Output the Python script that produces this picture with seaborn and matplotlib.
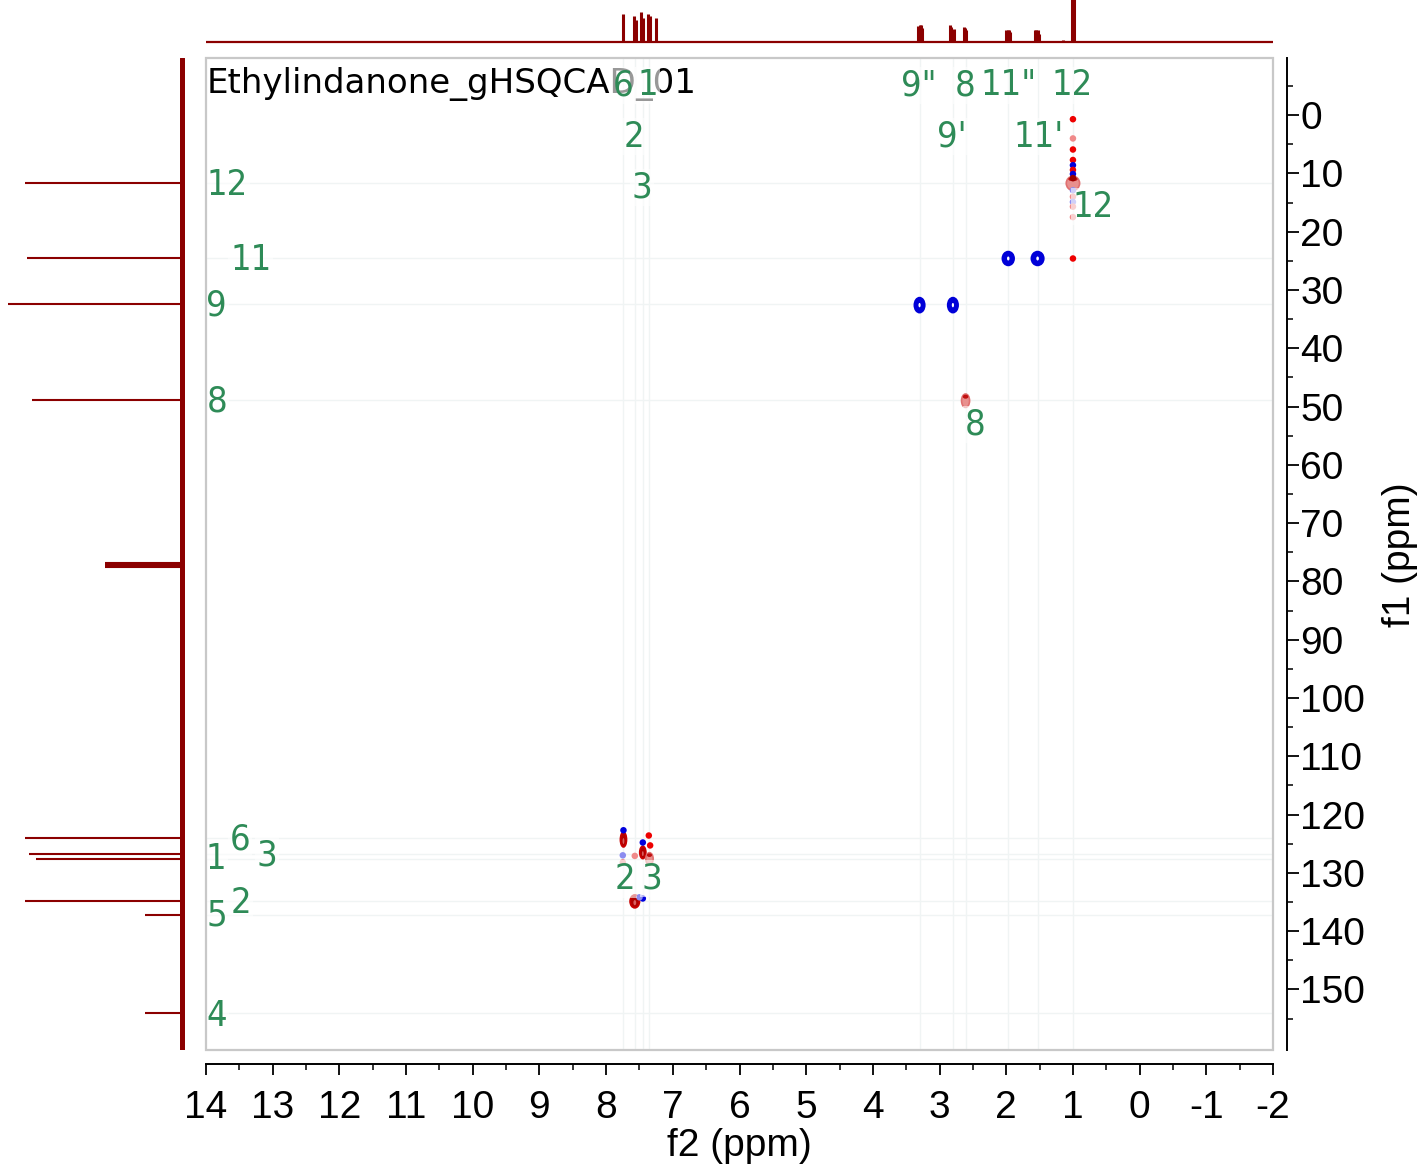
import numpy as np
import pandas as pd
import matplotlib
matplotlib.use('Agg')
import matplotlib.pyplot as plt
import seaborn as sns
from matplotlib.patches import Ellipse, Rectangle

sns.set_theme(style='white')
plt.rcParams['font.family'] = ['Liberation Sans', 'DejaVu Sans']
plt.rcParams['axes.unicode_minus'] = False

# 1H projection (top): shift in ppm, relative height
h1_shift = [7.74, 7.58, 7.55, 7.47, 7.45, 7.37, 7.34, 7.25,
            3.32, 3.30, 3.28, 3.26, 2.85, 2.83, 2.79, 2.64, 2.62, 2.61,
            2.00, 1.98, 1.96, 1.94, 1.57, 1.55, 1.53, 1.51, 1.15, 1.02, 1.00, 0.98, 0.90, 5.40, 4.07]
h1_height = [28, 26, 22, 30, 24, 28, 26, 24,
             16, 17, 17, 14, 17, 15, 13, 15, 14, 12,
             12, 12, 12, 10, 12, 12, 12, 8, 2.5, 60, 60, 60, 1.5, 1, 1]

# 13C projection (left)
c13_shift = [11.7, 24.5, 32.4, 48.8, 76.84, 77.16, 77.48, 124.1, 126.8, 127.6, 134.9, 137.2, 154.0]
c13_height = [90, 89, 100, 86, 44, 44, 44, 90, 88, 84, 90, 21, 21]

# HSQC cross peaks: f2, f1, extent in f2, extent in f1, phase/intensity
peak_f2 = [3.30, 2.80, 1.97, 1.53, 1.00, 2.61, 7.74, 7.45, 7.35, 7.57]
peak_f1 = [32.6, 32.6, 24.6, 24.6, 11.7, 49.0, 124.3, 126.5, 127.6, 134.9]
peak_w = [0.15, 0.15, 0.17, 0.18, 0.20, 0.12, 0.09, 0.09, 0.11, 0.14]
peak_h = [2.5, 2.5, 2.3, 2.3, 2.4, 2.3, 2.5, 2.1, 2.1, 2.2]
peak_int = [-1, -1, -1, -1, 0.5, 0.5, 1, 1, 0.5, 1]

# small artefact dots
dot_f2 = [1.0, 1.0, 1.0, 1.0, 1.0, 1.0, 1.0, 1.0, 1.0, 1.0, 1.0, 1.0, 1.0,
          1.0, 7.74, 7.45, 7.36, 7.34, 7.57, 7.75, 7.75, 7.45, 7.50]
dot_f1 = [0.7, 4.0, 5.9, 7.7, 8.6, 9.4, 10.1, 10.8, 12.9, 14.0, 14.9, 15.7, 17.5,
          24.6, 122.7, 124.8, 123.6, 125.3, 127.1, 127.0, 128.2, 134.4, 134.2]
dot_kind = ['pos', 'weak', 'pos', 'pos', 'neg', 'pos', 'neg', 'strong', 'negweak', 'weak', 'negweak', 'weak', 'weak',
            'pos', 'neg', 'neg', 'pos', 'pos', 'weak', 'negweak', 'weak', 'neg', 'negweak']

guide_f2 = [7.74, 7.57, 7.45, 7.35, 3.30, 2.80, 2.61, 1.97, 1.53, 1.00]
guide_f1 = [11.7, 24.5, 32.4, 48.8, 124.1, 126.8, 127.6, 134.9, 137.2, 154.0]

label_text = ['6', '1', '9"', '8', '11"', '12', '2', "9'", "11'", '3',
              '12', '8', '2', '3',
              '12', '11', '9', '8', '6', '3', '1', '2', '5', '4']
label_f2 = [7.74, 7.38, 3.31, 2.62, 1.97, 1.01, 7.58, 2.82, 1.52, 7.46,
            0.69, 2.46, 7.72, 7.31,
            13.68, 13.33, 13.84, 13.84, 13.49, 13.09, 13.85, 13.47, 13.84, 13.84]
label_f1 = [-5.1, -5.1, -5.1, -5.1, -5.1, -5.1, 3.7, 3.7, 3.7, 12.4,
            15.7, 53.1, 131.1, 131.0,
            12.0, 24.9, 32.7, 49.1, 124.3, 127.1, 127.7, 135.1, 137.4, 154.6]

x_ticks = list(range(14, -3, -1))
y_ticks = list(range(0, 151, 10))

W, H = 1422, 1167


def rect(x0, y0, x1, y1):
    return [x0 / W, 1 - y1 / H, (x1 - x0) / W, (y1 - y0) / H]


fig = plt.figure(figsize=(W / 100, H / 100), dpi=100)
ax = fig.add_axes(rect(206, 58, 1273, 1050))
ax_top = fig.add_axes(rect(206, 0, 1273, 50))
ax_left = fig.add_axes(rect(0, 58, 190, 1050))

f2_lim = (14, -2)
f1_lim = (160.4, -9.8)
dark = '#8b0000'
green = '#2e8b57'

# top projection
ax_top.vlines(h1_shift, 0, h1_height, color=dark, lw=2.2)
ax_top.axhline(0, color=dark, lw=1.6)
ax_top.set_xlim(*f2_lim)
ax_top.set_ylim(-8, 42)
ax_top.axis('off')

# left projection
ax_left.hlines(c13_shift, 0, c13_height, color=dark, lw=1.5)
ax_left.axvline(0, color=dark, lw=3.6)
ax_left.set_xlim(104.6, -4.6)
ax_left.set_ylim(*f1_lim)
ax_left.axis('off')

# main 2D panel
for g in guide_f2:
    ax.axvline(g, color='#f0f4f4', lw=1, zorder=0)
for g in guide_f1:
    ax.axhline(g, color='#f0f4f4', lw=1, zorder=0)

for x, y, w, h, v in zip(peak_f2, peak_f1, peak_w, peak_h, peak_int):
    if v < 0:
        ax.add_patch(Ellipse((x, y), w, h, facecolor='#0000d8', edgecolor='#0000d8', lw=1.5, zorder=3))
        ax.add_patch(Ellipse((x, y), w * 0.22, h * 0.3, facecolor='white', edgecolor='none', zorder=4))
    elif v >= 1:
        ax.add_patch(Ellipse((x, y), w, h, facecolor='#b00000', edgecolor='#c80000', lw=1.3, zorder=3))
        ax.add_patch(Ellipse((x, y + h * 0.1), w * 0.3, h * 0.4, facecolor='#d86060', edgecolor='none', zorder=4))
    else:
        ax.add_patch(Ellipse((x, y), w, h, facecolor='#e8908e', edgecolor='#e07070', lw=1.2, zorder=3))
        ax.add_patch(Ellipse((x, y - h * 0.3), w * 0.7, h * 0.3, facecolor='#c01010', edgecolor='none', zorder=4))

dots = pd.DataFrame({'f2': dot_f2, 'f1': dot_f1, 'kind': dot_kind})
dot_pal = {'pos': '#ee0000', 'weak': '#f08a8a', 'neg': '#0000dd', 'negweak': '#8c8cf0', 'strong': '#9a0000'}
sns.scatterplot(data=dots, x='f2', y='f1', hue='kind', palette=dot_pal, s=22,
                edgecolor='none', legend=False, ax=ax, zorder=5)

box = dict(boxstyle='square,pad=0.05', facecolor='white', edgecolor='none', alpha=0.6)
ax.text(0.001, (1050 - 84) / 992, 'Ethylindanone_gHSQCAD_01', transform=ax.transAxes,
        ha='left', va='center', fontsize=24.5, color='black', family=['DejaVu Sans'], zorder=6)
for t, x, y in zip(label_text, label_f2, label_f1):
    ax.text(x, y, t, ha='center', va='center', fontsize=26, color=green,
            family=['DejaVu Sans'], fontstretch='condensed', bbox=box, zorder=7)

ax.add_patch(Rectangle((0, 0), 1, 1, transform=ax.transAxes, fill=False,
                       edgecolor='#c8c8c8', lw=1.6, clip_on=False, zorder=8))

ax.set_xlim(*f2_lim)
ax.set_ylim(*f1_lim)
ax.set_xticks(x_ticks)
ax.set_xticklabels([str(v) for v in x_ticks])
ax.set_xticks([v + 0.5 for v in x_ticks[1:]], minor=True)
ax.yaxis.tick_right()
ax.yaxis.set_label_position('right')
ax.set_yticks(y_ticks)
ax.set_yticklabels([str(v) for v in y_ticks])
ax.set_yticks([v for v in range(-5, 160, 10)], minor=True)

for s in ['top', 'left']:
    ax.spines[s].set_visible(False)
for s in ['right', 'bottom']:
    ax.spines[s].set_position(('outward', 10))
    ax.spines[s].set_color('black')
    ax.spines[s].set_linewidth(1.4)

ax.tick_params(axis='x', which='major', direction='out', length=8, width=1.3,
               labelsize=28, pad=11, colors='black', bottom=True)
ax.tick_params(axis='x', which='minor', direction='out', length=4, width=1.3, bottom=True)
ax.tick_params(axis='y', which='major', direction='out', length=8.5, width=1.3,
               labelsize=28, pad=1, colors='black', right=True, left=False)
ax.tick_params(axis='y', which='minor', direction='out', length=4.5, width=1.3, right=True, left=False)
for lbl in ax.get_yticklabels():
    lbl.set_va('center_baseline')

ax.set_xlabel('f2 (ppm)', fontsize=28, va='center', color='black')
ax.xaxis.set_label_coords((739 - 206) / 1067, (1050 - 1146) / 992)
ax.set_ylabel('f1 (ppm)', fontsize=28, va='center', rotation=90, color='black')
ax.yaxis.set_label_coords((1400 - 206) / 1067, (1050 - 555) / 992)
ax.grid(False)

fig.savefig('out.png', dpi=100)
